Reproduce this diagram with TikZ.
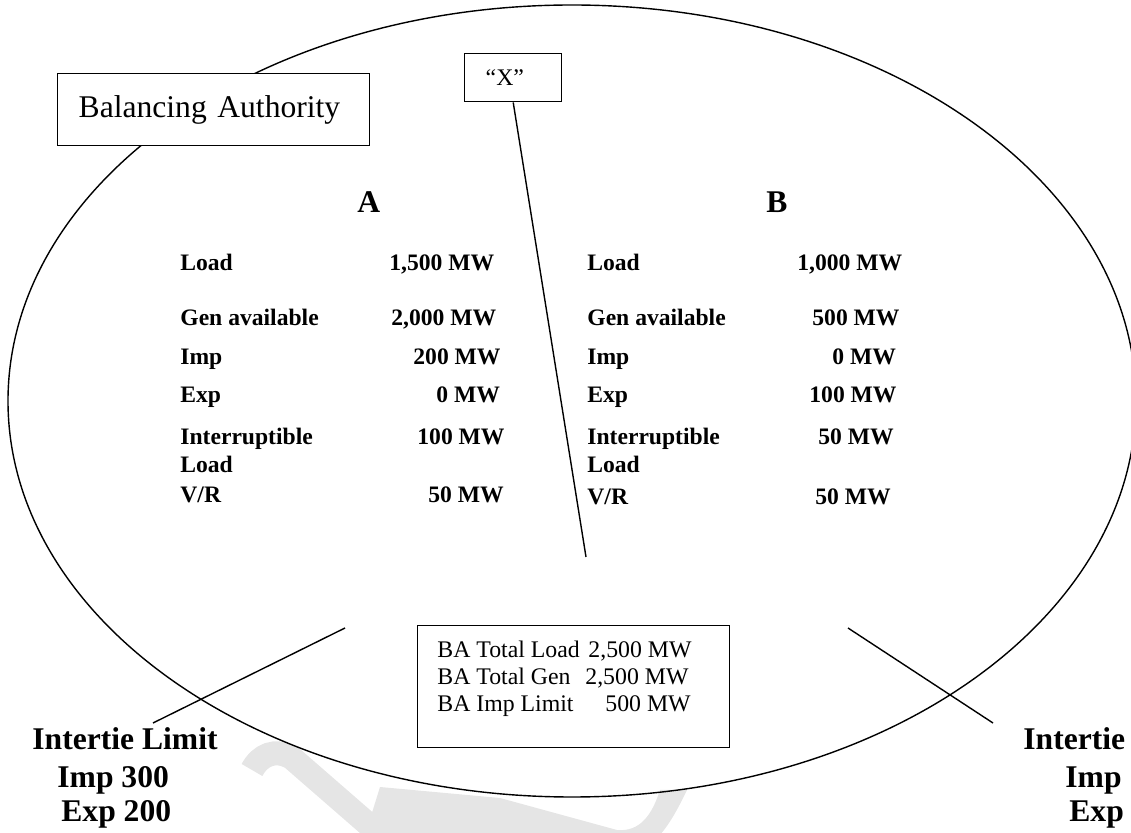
\documentclass[tikz,border=0pt]{standalone}
\usepackage{fontspec}
\setmainfont{Liberation Serif}
\begin{document}
\begin{tikzpicture}[x=0.5pt,y=-0.5pt]
\tikzset{
  wire/.style={line width=0.7pt},
  frame/.style={draw, line width=0.7pt, fill=white, align=left, inner ysep=0pt},
  plain/.style={font=\fontsize{15.8pt}{19pt}\selectfont},
  small/.style={font=\fontsize{11.9pt}{13.6pt}\selectfont},
  lbl/.style={anchor=base west, inner sep=0pt, align=left, font=\fontsize{11.8pt}{14pt}\selectfont\bfseries},
  head/.style={anchor=base west, inner sep=0pt, align=left, font=\fontsize{15.8pt}{18pt}\selectfont\bfseries},
  watermark/.style={fill=black!10, draw=none},
}
\useasboundingbox (0,0) rectangle (1131,833);
\clip (0,0) rectangle (1131,833);

% faint watermark strokes along the bottom edge
\draw[black!10, line width=12pt] (252,770) .. controls (260,755) and (275,748) .. (292,758) -- (392,845);
\fill[watermark] (362,845) -- (380,787) -- (500,798) -- (617,830)
  .. controls (640,832) and (652,815) .. (660,790) -- (687,790)
  .. controls (675,815) and (665,832) .. (650,845) -- cycle;

% the balancing authority boundary
\draw[wire] (572,401) ellipse [x radius=564, y radius=396];

% labelled boxes
\node[frame, plain, anchor=north west, minimum width=156pt, minimum height=36pt,
      text width=135pt, inner xsep=10.5pt] (ba) at (57,73) {Balancing Authority};
\node[frame, small, anchor=north west, minimum width=48.5pt, minimum height=24pt,
      text width=27.5pt, inner xsep=10.5pt] (xbox) at (464,53) {“X”};

% pointer from the "X" box
\coordinate (xend) at (586,557);
\draw[wire] (xbox.south) -- (xend);

% column headings
\node[head] (hA) at (357,213) {A};
\node[head] (hB) at (766,213) {B};

% area A figures (two-line labels sit on the baseline of their last line)
\node[lbl] (aL1) at (180,271) {Load};
\node[lbl] (aV1) at (389,271) {1,500 MW};
\node[lbl] (aL2) at (180,326) {Gen available};
\node[lbl] (aV2) at (391,326) {2,000 MW};
\node[lbl] (aL3) at (180,365) {Imp};
\node[lbl] (aV3) at (413,365) {200 MW};
\node[lbl] (aL4) at (180,403) {Exp};
\node[lbl] (aV4) at (436,403) {0 MW};
\node[lbl] (aL5) at (180,473) {Interruptible\\Load};
\node[lbl] (aV5) at (417,445) {100 MW};
\node[lbl] (aL6) at (180,503) {V/R};
\node[lbl] (aV6) at (428,503) {50 MW};

% area B figures
\node[lbl] (bL1) at (587,271) {Load};
\node[lbl] (bV1) at (797,271) {1,000 MW};
\node[lbl] (bL2) at (587,326) {Gen available};
\node[lbl] (bV2) at (812,326) {500 MW};
\node[lbl] (bL3) at (587,365) {Imp};
\node[lbl] (bV3) at (832,365) {0 MW};
\node[lbl] (bL4) at (587,403) {Exp};
\node[lbl] (bV4) at (809,403) {100 MW};
\node[lbl] (bL5) at (587,473) {Interruptible\\Load};
\node[lbl] (bV5) at (818,445) {50 MW};
\node[lbl] (bL6) at (587,505) {V/R};
\node[lbl] (bV6) at (815,505) {50 MW};

% totals box
\node[draw, line width=0.7pt, fill=white, anchor=north west, minimum width=156pt,
      minimum height=61pt, inner sep=0pt] (totbox) at (417,625) {};
\node[anchor=base west, align=left, inner sep=0pt,
      font=\fontsize{11.9pt}{13.5pt}\selectfont] (totals) at (437,712)
  {\makebox[75.5pt][l]{BA Total Load}2,500 MW\\
   \makebox[74pt][l]{BA Total Gen}2,500 MW\\
   \makebox[84pt][l]{BA Imp Limit}500 MW};

% intertie pointers
\coordinate (tieA1) at (345,628);
\coordinate (tieA2) at (153,723);
\coordinate (tieB1) at (848,628);
\coordinate (tieB2) at (993,723);
\draw[wire] (tieA1) -- (tieA2);
\draw[wire] (tieB1) -- (tieB2);

% intertie limits
\node[head] (tA1) at (32,750) {Intertie Limit};
\node[head] (tA2) at (57,788) {Imp 300};
\node[head] (tA3) at (61,822) {Exp 200};
\node[head] (tB1) at (1023,750) {Intertie};
\node[head] (tB2) at (1065,788) {Imp};
\node[head] (tB3) at (1069,822) {Exp};
\end{tikzpicture}
\end{document}
